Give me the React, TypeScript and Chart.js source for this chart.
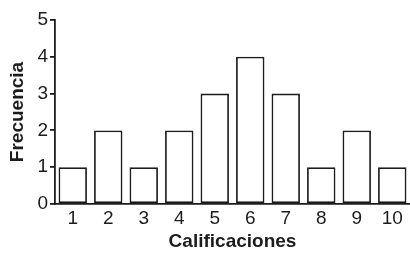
import React, { useEffect, useRef } from "react";
import { Chart, registerables } from "chart.js";

Chart.register(...registerables);

const categories = ["1", "2", "3", "4", "5", "6", "7", "8", "9", "10"];
const frequencies = [1, 2, 1, 2, 3, 4, 3, 1, 2, 1];
const yTitle = "Frecuencia";
const xTitle = "Calificaciones";

export default function App() {
  const ref = useRef<HTMLCanvasElement | null>(null);

  useEffect(() => {
    document.body.style.margin = "0";
    const canvas = ref.current;
    if (!canvas) return;
    const ink = "#1c1c1c";
    const family = "'Liberation Sans', Arial, sans-serif";
    const chart = new Chart(canvas, {
      type: "bar",
      data: {
        labels: categories,
        datasets: [
          {
            data: frequencies,
            backgroundColor: "#ffffff",
            borderColor: ink,
            borderWidth: 1.8,
            borderSkipped: false,
            barPercentage: 0.8,
            categoryPercentage: 1,
          },
        ],
      },
      options: {
        responsive: false,
        animation: false,
        layout: { padding: { top: 20, right: 0, left: 0, bottom: 0 } },
        plugins: {
          legend: { display: false },
          tooltip: { enabled: false },
        },
        scales: {
          x: {
            grid: { display: false, drawTicks: false },
            border: { display: true, color: ink, width: 1.8 },
            ticks: {
              color: ink,
              padding: 3,
              font: { family, size: 19 },
            },
            title: {
              display: true,
              text: xTitle,
              color: ink,
              padding: { top: 0, bottom: 0 },
              font: { family, size: 19, weight: "bold" },
            },
            afterFit: (scale: any) => {
              scale.height = 49;
            },
          },
          y: {
            min: 0,
            max: 5,
            grid: {
              drawOnChartArea: false,
              drawTicks: true,
              tickLength: 5,
              color: ink,
              lineWidth: 1.8,
            },
            border: { display: true, color: ink, width: 1.8 },
            ticks: {
              stepSize: 1,
              color: ink,
              padding: 2,
              font: { family, size: 19 },
            },
            title: {
              display: true,
              text: yTitle,
              color: ink,
              padding: { top: 6, bottom: 0 },
              font: { family, size: 19, weight: "bold" },
            },
            afterFit: (scale: any) => {
              scale.width = 55;
            },
          },
        },
      },
    });
    return () => chart.destroy();
  }, []);

  return (
    <div style={{ position: "absolute", left: 0, top: 0, width: 410, height: 253, background: "#fff" }}>
      <canvas ref={ref} width={410} height={253} />
    </div>
  );
}
